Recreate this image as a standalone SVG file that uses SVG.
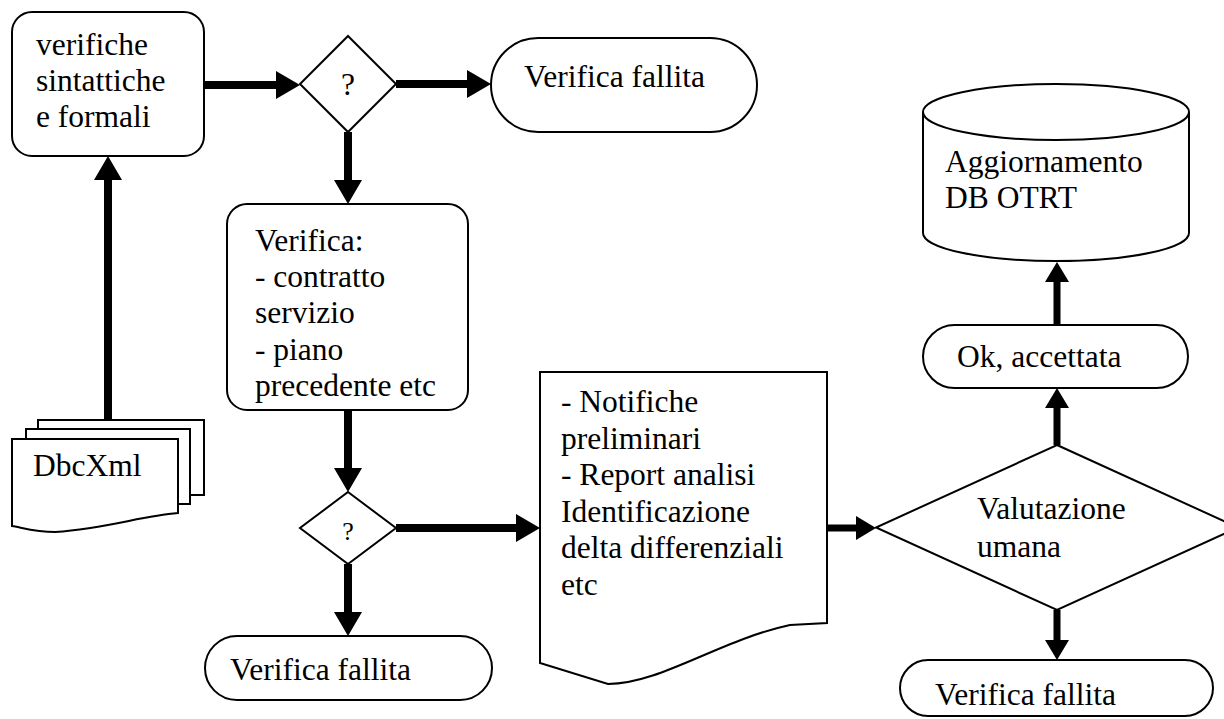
<svg xmlns="http://www.w3.org/2000/svg" width="1224" height="719" viewBox="0 0 1224 719">
<style>
.s{fill:#fff;stroke:#000;stroke-width:2}
.t{font-size:31.5px;fill:#000}
.c{stroke:#000;stroke-width:8;fill:none;marker-end:url(#ah)}
.c2{stroke:#000;stroke-width:7;fill:none;marker-end:url(#ah2)}
</style>
<defs>
<marker id="ah" markerUnits="userSpaceOnUse" viewBox="0 0 24 28" markerWidth="24" markerHeight="28" refX="12" refY="14" orient="auto">
<path d="M0,0 L24,14 L0,28 Z" fill="#000"/>
</marker>
<marker id="ah2" markerUnits="userSpaceOnUse" viewBox="0 0 20 24" markerWidth="20" markerHeight="24" refX="10" refY="12" orient="auto">
<path d="M0,0 L20,12 L0,24 Z" fill="#000"/>
</marker>
</defs>
<rect width="1224" height="719" fill="#fff"/>
<g font-family="Liberation Serif, Times New Roman, serif">
<g id="n-verifiche">
<rect class="s" x="12" y="12" width="192" height="144" rx="20"/>
<text class="t" x="36" y="55">verifiche</text>
<text class="t" x="36" y="91">sintattiche</text>
<text class="t" x="36" y="127">e formali</text>
</g>
<g id="n-d1">
<polygon class="s" points="348,36 396,84 348,132 300,84"/>
<text class="t" x="348" y="95" text-anchor="middle">?</text>
</g>
<g id="n-fallita1">
<rect class="s" x="491" y="38" width="266" height="94" rx="47"/>
<text class="t" x="524" y="87">Verifica fallita</text>
</g>
<g id="n-verifica">
<rect class="s" x="227" y="204" width="241" height="206" rx="20"/>
<text class="t" x="255" y="251">Verifica:</text>
<text class="t" x="255" y="287">- contratto</text>
<text class="t" x="255" y="323">servizio</text>
<text class="t" x="255" y="360">- piano</text>
<text class="t" x="255" y="396">precedente etc</text>
</g>
<g id="n-d2">
<polygon class="s" points="348,492 396,528 348,564 300,528"/>
<text class="t" x="348" y="540" text-anchor="middle" style="font-size:26px">?</text>
</g>
<g id="n-fallita2">
<rect class="s" x="205" y="636" width="287" height="64" rx="32"/>
<text class="t" x="230" y="680">Verifica fallita</text>
</g>
<g id="n-dbcxml">
<path class="s" d="M38,420 H204 V495 H38 Z"/>
<path class="s" d="M26,429 H190 V504 H26 Z"/>
<path class="s" d="M12,439 H178 V513 C140,516 110,528 55,532 C35,532 20,527 12,526 Z"/>
<text class="t" x="33" y="476">DbcXml</text>
</g>
<g id="n-notifiche">
<path class="s" d="M540,372 H827 V623 L790,625 C720,640 660,684 608,684 L540,663 Z"/>
<text class="t" x="561" y="412">- Notifiche</text>
<text class="t" x="561" y="449">preliminari</text>
<text class="t" x="561" y="485">- Report analisi</text>
<text class="t" x="561" y="522">Identificazione</text>
<text class="t" x="561" y="558">delta differenziali</text>
<text class="t" x="561" y="595">etc</text>
</g>
<g id="n-valutazione">
<polygon class="s" points="1057,445 1238,527.5 1057,610 876,527.5"/>
<text class="t" x="977" y="519">Valutazione</text>
<text class="t" x="977" y="557">umana</text>
</g>
<g id="n-ok">
<rect class="s" x="923" y="325" width="265" height="63" rx="31.5"/>
<text class="t" x="957" y="367">Ok, accettata</text>
</g>
<g id="n-db">
<path class="s" d="M923,112 V233 A133,28 0 0 0 1189,233 V112 A133,28 0 0 0 923,112 Z"/>
<path class="s" d="M923,112 A133,28 0 0 0 1189,112" fill="none"/>
<text class="t" x="945" y="172">Aggiornamento</text>
<text class="t" x="945" y="208">DB OTRT</text>
</g>
<g id="n-fallita3">
<rect class="s" x="900" y="660" width="313" height="56" rx="28"/>
<text class="t" x="935" y="705">Verifica fallita</text>
</g>
</g>
<g id="connectors">
<line class="c" x1="204" y1="85" x2="288" y2="85"/>
<line class="c" x1="396" y1="84" x2="479" y2="84"/>
<line class="c" x1="348" y1="132" x2="348" y2="192"/>
<line class="c" x1="348" y1="410" x2="348" y2="480"/>
<line class="c" x1="396" y1="528" x2="528" y2="528"/>
<line class="c" x1="348" y1="564" x2="348" y2="624"/>
<line class="c" x1="108" y1="420" x2="108" y2="168"/>
<line class="c2" x1="827" y1="528" x2="866" y2="528"/>
<line class="c2" x1="1057" y1="445" x2="1057" y2="398"/>
<line class="c2" x1="1057" y1="325" x2="1057" y2="272"/>
<line class="c2" x1="1057" y1="610" x2="1057" y2="650"/>
</g>
</svg>
